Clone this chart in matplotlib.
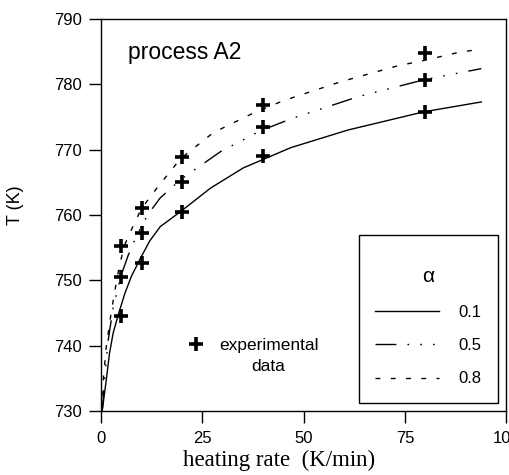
import numpy as np
import matplotlib
matplotlib.use("Agg")
import matplotlib.pyplot as plt
from matplotlib.lines import Line2D

plt.rcParams["font.family"] = ["Liberation Sans", "DejaVu Sans"]

# experimental points (heating rate K/min, T in K)
rates = [5, 10, 20, 40, 80]
exp_01 = [744.6, 752.7, 760.5, 769.1, 775.7]
exp_05 = [750.5, 757.3, 765.0, 773.4, 780.6]
exp_08 = [755.3, 761.1, 768.8, 776.8, 784.8]

# model curves
c01_x = [0.3, 1.3, 2.1, 3.0, 4.2, 5.9, 7.5, 9.6, 12.0, 14.6, 19.6, 27.0, 35.1, 46.8, 60.9, 79.7, 93.8]
c01_y = [730.0, 734.7, 738.8, 741.9, 744.6, 748.0, 750.6, 753.2, 756.0, 758.2, 760.5, 764.1, 767.2, 770.3, 773.0, 775.8, 777.3]
c05_x = [0.3, 1.0, 1.7, 3.0, 5.0, 6.7, 9.0, 11.6, 14.6, 19.6, 29.5, 39.4, 46.8, 63.4, 79.7, 93.8]
c05_y = [730.0, 735.5, 740.5, 745.8, 750.8, 753.8, 757.1, 760.1, 762.6, 765.4, 769.7, 772.9, 774.7, 778.1, 780.7, 782.4]
c08_x = [0.3, 0.6, 1.3, 2.5, 3.6, 4.6, 5.9, 7.7, 10.0, 13.9, 19.6, 27.7, 37.6, 45.0, 59.2, 73.0, 80.0, 87.6, 93.5]
c08_y = [730.0, 735.0, 739.8, 745.0, 749.0, 752.4, 755.5, 758.0, 761.0, 764.2, 768.6, 772.6, 775.6, 777.5, 780.4, 782.8, 783.7, 784.8, 785.4]

alphas = ["0.1", "0.5", "0.8"]
x_ticks = [0, 25, 50, 75, 100]
y_ticks = [730, 740, 750, 760, 770, 780, 790]

fig = plt.figure(figsize=(5.1, 4.75), dpi=100)
ax = fig.add_axes([0.198, 0.135, 0.795, 0.825])

ls01 = "-"
ls05 = (0, (15, 8, 1.2, 8, 1.2, 8, 1.2, 8))
ls08 = (0, (3.5, 7.5))

l1, = ax.plot(c01_x, c01_y, color="black", lw=1.0, ls=ls01)
l2, = ax.plot(c05_x, c05_y, color="black", lw=1.0, ls=ls05)
l3, = ax.plot(c08_x, c08_y, color="black", lw=1.0, ls=ls08)

mk = dict(ls="none", marker="+", ms=10, mew=2.6, color="black")
for ys in (exp_01, exp_05, exp_08):
    ax.plot(rates, ys, **mk)

ax.set_xlim(0, 100)
ax.set_ylim(730, 790)
ax.set_xticks(x_ticks)
ax.set_yticks(y_ticks)
ax.tick_params(direction="out", length=8.5, width=1.0, labelsize=12, pad=5)
ax.tick_params(axis="x", pad=6)
for s in ax.spines.values():
    s.set_linewidth(1.0)

ax.set_xlabel("heating rate  (K/min)", family="Liberation Serif", fontsize=16.5)
ax.xaxis.set_label_coords(0.44, -0.1)
ax.set_ylabel("T (K)", fontsize=13)
ax.yaxis.set_label_coords(-0.19, 0.525)

ax.text(0.067, 0.898, "process A2", transform=ax.transAxes, fontsize=16.5, va="baseline")

leg = ax.legend([l1, l2, l3], alphas, title="\n\u03b1", loc="lower right",
                bbox_to_anchor=(0.98, 0.02), borderaxespad=0, fontsize=12,
                title_fontsize=15, handlelength=3.8, handletextpad=1.2,
                labelspacing=1.1, borderpad=1.0, fancybox=False,
                edgecolor="black", framealpha=1)
leg.get_title().set_linespacing(0.75)
leg.get_frame().set_linewidth(1.0)
ax.add_artist(leg)

h = Line2D([], [], **mk)
leg2 = ax.legend([h], ["experimental\ndata"], loc="center left",
                 bbox_to_anchor=(0.175, 0.135), frameon=False, fontsize=12.5,
                 handlelength=1.0, handletextpad=0.8, handleheight=5.2)
for t in leg2.get_texts():
    t.set_multialignment("center")
    t.set_linespacing(1.45)

fig.savefig("out.png", dpi=100)
